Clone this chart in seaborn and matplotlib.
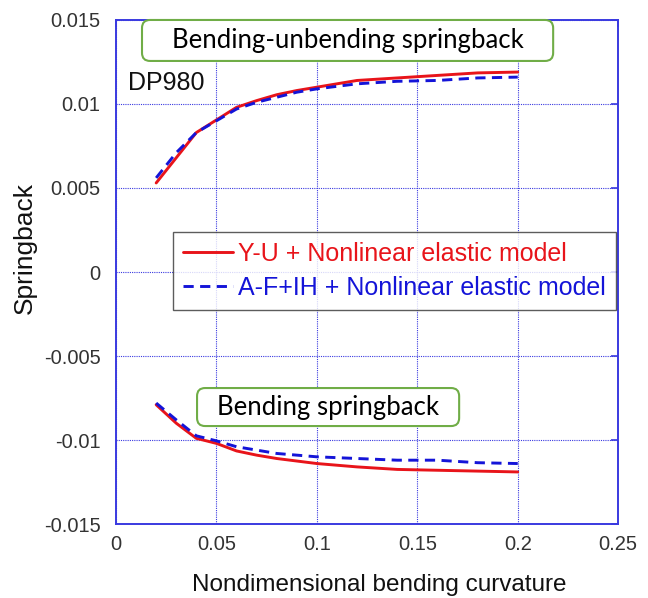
import matplotlib
matplotlib.use("Agg")
import matplotlib.pyplot as plt
from matplotlib.patches import FancyBboxPatch
import numpy as np
import pandas as pd
import seaborn as sns

# Nondimensional bending curvature
curvature = [0.02, 0.03, 0.04, 0.05, 0.06, 0.07, 0.08, 0.09, 0.10, 0.12, 0.14, 0.16, 0.18, 0.20]

# Bending-unbending springback (upper branch)
yu_unbend = [0.0053, 0.0068, 0.0083, 0.00905, 0.0098, 0.0102, 0.01055, 0.0108, 0.0110,
             0.0114, 0.01155, 0.0117, 0.01185, 0.0119]
af_unbend = [0.0056, 0.0071, 0.0083, 0.0090, 0.0097, 0.0101, 0.0104, 0.0107, 0.0109,
             0.0112, 0.01135, 0.0114, 0.01155, 0.0116]

# Bending springback (lower branch)
yu_bend = [-0.0079, -0.0090, -0.0099, -0.0102, -0.01065, -0.0109, -0.0111, -0.01125, -0.0114,
           -0.0116, -0.01175, -0.0118, -0.01185, -0.0119]
af_bend = [-0.0078, -0.0088, -0.00975, -0.01005, -0.0104, -0.0106, -0.0108, -0.0109, -0.0110,
           -0.0111, -0.0112, -0.0112, -0.01135, -0.0114]

models = ["Y-U + Nonlinear elastic model", "A-F+IH + Nonlinear elastic model"]
x_ticks = [0, 0.05, 0.1, 0.15, 0.2, 0.25]
x_tick_labels = ["0", "0.05", "0.1", "0.15", "0.2", "0.25"]
y_ticks = [-0.015, -0.01, -0.005, 0, 0.005, 0.01, 0.015]
y_tick_labels = ["-0.015", "-0.01", "-0.005", "0", "0.005", "0.01", "0.015"]

frames = []
for model, branch, vals in [
    (models[0], "unbend", yu_unbend),
    (models[1], "unbend", af_unbend),
    (models[0], "bend", yu_bend),
    (models[1], "bend", af_bend),
]:
    frames.append(pd.DataFrame({"curvature": curvature, "springback": vals,
                                "model": model, "branch": branch}))
df = pd.concat(frames, ignore_index=True)

sns.set_style("white")
plt.rcParams["font.family"] = ["Liberation Sans", "DejaVu Sans"]

axis_blue = "#3a3ae0"
colors = {models[0]: "#e8141a", models[1]: "#1414d8"}

fig = plt.figure(figsize=(6.48, 5.98), dpi=100)
ax = fig.add_axes([0.179, 0.1237, 0.775, 0.8429])

sns.lineplot(data=df, x="curvature", y="springback", hue="model", style="model",
             units="branch", estimator=None, palette=colors,
             dashes={models[0]: "", models[1]: (3.5, 2.2)},
             linewidth=2.1, ax=ax, legend=True, sort=False)

ax.set_xlim(0, 0.25)
ax.set_ylim(-0.015, 0.015)
ax.set_xticks(x_ticks)
ax.set_xticklabels(x_tick_labels)
ax.set_yticks(y_ticks)
ax.set_yticklabels(y_tick_labels)

ax.grid(True, color=axis_blue, linestyle=(0, (1, 1)), linewidth=0.8)
ax.set_axisbelow(True)
for sp in ax.spines.values():
    sp.set_color(axis_blue)
    sp.set_linewidth(1.4)
ax.tick_params(direction="in", length=5, width=1.2, color=axis_blue,
               top=True, right=True, labelsize=14.5, labelcolor="#333333")
ax.tick_params(axis="y", pad=11)
ax.tick_params(axis="x", pad=8)

ax.set_xlabel("Nondimensional bending curvature", fontsize=17.5, color="#111111")
ax.xaxis.set_label_coords(0.524, -0.133)
ax.xaxis.label.set_va("baseline")
ax.set_ylabel("Springback", fontsize=19, color="#111111")
ax.yaxis.set_label_coords(-0.181, 0.548)
ax.yaxis.label.set_va("center")

leg = ax.legend(loc="upper left", bbox_to_anchor=(0.1135, 0.579), borderaxespad=0,
                fontsize=18, frameon=True, fancybox=False, edgecolor="#333333",
                handlelength=2.0, handletextpad=0.2, borderpad=0.4, labelspacing=0.4)
leg.get_frame().set_linewidth(1.0)
for text, model in zip(leg.get_texts(), models):
    text.set_color(colors[model])

ax.text(0.024, 0.874, "DP980", transform=ax.transAxes, fontsize=18,
        ha="left", va="center", color="#111111")

# Titled callout boxes for the two springback branches
boxes = [
    ("Bending-unbending springback", 0.0518, 0.9187, 0.8187, 0.0813),
    ("Bending springback", 0.1614, 0.1944, 0.5219, 0.0754),
]
for label, bx, by, bw, bh in boxes:
    patch = FancyBboxPatch((bx, by), bw, bh, boxstyle="round,pad=0,rounding_size=0.016",
                           transform=ax.transAxes, facecolor="white",
                           edgecolor="#70ad47", linewidth=1.5, zorder=5, clip_on=False)
    ax.add_patch(patch)
    ax.text(bx + bw / 2, by + bh / 2, label, transform=ax.transAxes, fontsize=18.5,
            family=["Lato", "DejaVu Sans"], ha="center", va="center",
            color="black", zorder=6)

fig.savefig("out.png", dpi=100)
